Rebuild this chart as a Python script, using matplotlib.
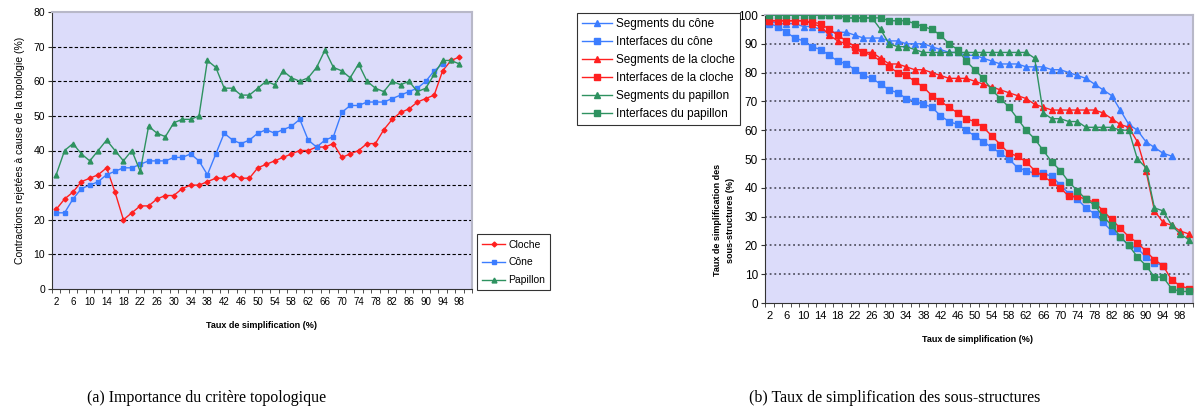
import numpy as np
import matplotlib
matplotlib.use("Agg")
import matplotlib.pyplot as plt

plt.rcParams['font.family'] = ['Liberation Sans', 'DejaVu Sans']

# ---- data, chart (a) ----
taux = list(range(2, 101, 2))          # 50 categories, 2..100
cloche = [23, 26, 28, 31, 32, 33, 35, 28, 20, 22, 24, 24, 26, 27, 27, 29, 30, 30, 31, 32,
          32, 33, 32, 32, 35, 36, 37, 38, 39, 40, 40, 41, 41, 42, 38, 39, 40, 42, 42, 46,
          49, 51, 52, 54, 55, 56, 63, 66, 67]
cone = [22, 22, 26, 29, 30, 31, 33, 34, 35, 35, 36, 37, 37, 37, 38, 38, 39, 37, 33, 39,
        45, 43, 42, 43, 45, 46, 45, 46, 47, 49, 43, 41, 43, 44, 51, 53, 53, 54, 54, 54,
        55, 56, 57, 58, 60, 63, 65]
papillon = [33, 40, 42, 39, 37, 40, 43, 40, 37, 40, 34, 47, 45, 44, 48, 49, 49, 50, 66, 64,
            58, 58, 56, 56, 58, 60, 59, 63, 61, 60, 61, 64, 69, 64, 63, 61, 65, 60, 58, 57,
            60, 59, 60, 57, 58, 62, 66, 66, 65]

# ---- data, chart (b) ----
seg_cone = [98, 97, 97, 97, 96, 96, 95, 94, 94, 94, 93, 92, 92, 92, 91, 91, 90, 90, 90, 89,
            88, 87, 87, 86, 86, 85, 84, 83, 83, 83, 82, 82, 82, 81, 81, 80, 79, 78, 76, 74,
            72, 67, 62, 60, 56, 54, 52, 51]
int_cone = [97, 96, 94, 92, 91, 89, 88, 86, 84, 83, 81, 79, 78, 76, 74, 73, 71, 70, 69, 68,
            65, 63, 62, 60, 58, 56, 54, 52, 50, 47, 46, 45, 45, 44, 41, 38, 36, 33, 31, 28,
            25, 23, 20, 19, 16, 14, 13]
seg_cloche = [98, 98, 98, 98, 98, 97, 96, 93, 91, 90, 88, 87, 87, 85, 83, 83, 82, 81, 81, 80,
              79, 78, 78, 78, 77, 76, 75, 74, 73, 72, 71, 69, 68, 67, 67, 67, 67, 67, 67, 66,
              64, 62, 61, 56, 46, 32, 28, 27, 25, 24]
int_cloche = [98, 98, 98, 98, 98, 97.5, 97, 95, 93, 91, 89, 87, 86, 84, 82, 80, 79, 77, 75, 72,
              70, 68, 66, 64, 63, 61, 58, 55, 52, 51, 49, 46, 44, 42, 40, 37, 37, 36, 35, 32,
              29, 26, 23, 21, 18, 15, 13, 8, 6, 5]
seg_pap = [100, 100, 100, 100, 100, 100, 100, 100, 100, 99, 99, 99, 99, 95, 90, 89, 89, 88, 87, 87,
           87, 87, 87, 87, 87, 87, 87, 87, 87, 87, 87, 85, 66, 64, 64, 63, 63, 61, 61, 61,
           61, 60, 60, 50, 47, 33, 32, 27, 24, 22]
int_pap = [100, 100, 100, 100, 100, 100, 100, 100, 100, 99, 99, 99, 99, 99, 98, 98, 98, 97, 96, 95,
           93, 90, 88, 84, 81, 78, 74, 71, 68, 64, 60, 57, 53, 49, 46, 42, 39, 36, 34, 30,
           27, 23, 20, 16, 13, 9, 9, 5, 4, 4]

tick_labels = [str(t) for t in taux[::2]]

RED = '#ff2020'
BLUE = '#3c7dff'
GREEN = '#2e9260'
BG = '#dcdcfa'

fig = plt.figure(figsize=(11.96, 4.17), dpi=100)


def excel_axes(ax, ymax, ystep):
    ax.set_facecolor(BG)
    ax.set_xlim(-0.5, len(taux) - 0.5)
    ax.set_ylim(0, ymax)
    ax.set_xticks(range(0, len(taux), 2))
    ax.set_xticks(np.arange(-0.5, len(taux), 1), minor=True)
    ax.set_yticks(range(0, ymax + 1, ystep))
    ax.tick_params(axis='x', which='major', length=0, pad=6)
    ax.tick_params(axis='x', which='minor', length=3, direction='out', color='#333333')
    ax.tick_params(axis='y', length=3, direction='out', color='#333333', pad=2)
    for s in ['left', 'bottom']:
        ax.spines[s].set_color('#333333')
    for s in ['top', 'right']:
        ax.spines[s].set_color('#b8b8c8')
        ax.spines[s].set_linewidth(1.5)


# ---- chart (a) ----
ax1 = fig.add_axes([52 / 1196, 1 - 289 / 417, 420 / 1196, 277 / 417])
excel_axes(ax1, 80, 10)
for yv in range(10, 80, 10):
    ax1.axhline(yv, color='black', lw=0.8, ls=(0, (3, 2)), zorder=1)
ax1.plot(range(len(cloche)), cloche, color=RED, lw=1, marker='D', ms=2.5, label='Cloche', zorder=3)
ax1.plot(range(len(cone)), cone, color=BLUE, lw=1, marker='s', ms=3, label='Cône', zorder=3)
ax1.plot(range(len(papillon)), papillon, color=GREEN, lw=1, marker='^', ms=3.5, label='Papillon', zorder=3)
ax1.set_xticklabels(tick_labels, fontsize=7)
ax1.tick_params(axis='y', labelsize=7.5)
ax1.set_ylabel('Contractions rejetées à cause de la topologie (%)', fontsize=7.5, labelpad=6)
ax1.set_xlabel('Taux de simplification (%)', fontsize=6.5, fontweight='bold', labelpad=10)
leg1 = ax1.legend(loc='lower left', bbox_to_anchor=(1.012, -0.005), fontsize=7.5,
                  frameon=True, fancybox=False, edgecolor='black', handlelength=2.2,
                  borderpad=0.5, labelspacing=0.75, handletextpad=0.3, borderaxespad=0)
leg1.get_frame().set_linewidth(0.8)

# ---- chart (b) ----
ax2 = fig.add_axes([765 / 1196, 1 - 303 / 417, 428 / 1196, 288 / 417])
excel_axes(ax2, 100, 10)
for yv in range(10, 100, 10):
    ax2.axhline(yv, color='#555566', lw=1.3, ls=(0, (1, 1.6)), zorder=1)
series_b = [
    (seg_cone, BLUE, '^', 'Segments du cône'),
    (int_cone, BLUE, 's', 'Interfaces du cône'),
    (seg_cloche, RED, '^', 'Segments de la cloche'),
    (int_cloche, RED, 's', 'Interfaces de la cloche'),
    (seg_pap, GREEN, '^', 'Segments du papillon'),
    (int_pap, GREEN, 's', 'Interfaces du papillon'),
]
for vals, col, mk, lab in series_b:
    ax2.plot(range(len(vals)), vals, color=col, lw=1, marker=mk, ms=4, label=lab, zorder=3)
narrow = ['Liberation Sans Narrow', 'Liberation Sans', 'DejaVu Sans']
ax2.set_xticklabels(tick_labels, fontsize=8, family=narrow)
for t in ax2.get_yticklabels():
    t.set_fontsize(8.5)
    t.set_family(narrow)
fig.text(724 / 1196, 1 - 220 / 417, 'Taux de simplification des\nsous-structures (%)',
         rotation=90, ha='center', va='center', fontsize=6.5, fontweight='bold',
         family=narrow, linespacing=1.6)
fig.text(978 / 1196, 1 - 339 / 417, 'Taux de simplification (%)', ha='center', va='center',
         fontsize=6.5, fontweight='bold', family=narrow)
leg2 = fig.legend(handles=ax2.get_lines()[9:], loc='upper left',
                  bbox_to_anchor=(577 / 1196, 1 - 13 / 417),
                  prop={'family': narrow, 'size': 8.5},
                  frameon=True, fancybox=False, edgecolor='black', handlelength=2.6,
                  borderpad=0.4, labelspacing=0.52, handletextpad=0.3, borderaxespad=0)
leg2.get_frame().set_linewidth(0.8)

# ---- captions ----
fig.text(207 / 1196, 1 - 398 / 417, '(a) Importance du critère topologique',
         ha='center', va='center', fontsize=11.5, family='Liberation Serif')
fig.text(895 / 1196, 1 - 398 / 417, '(b) Taux de simplification des sous-structures',
         ha='center', va='center', fontsize=11.5, family='Liberation Serif')

fig.savefig('out.png', dpi=100)
